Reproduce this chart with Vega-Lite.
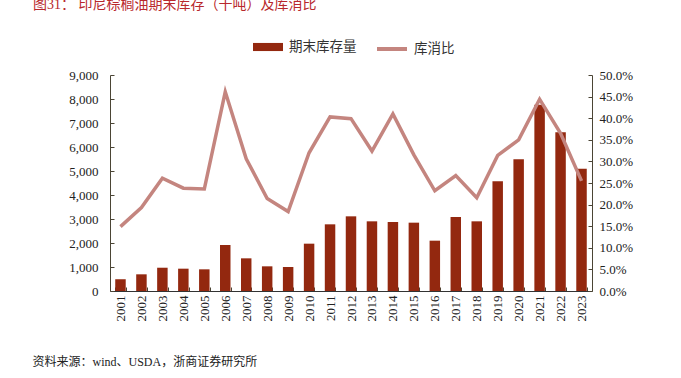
{
  "$schema": "https://vega.github.io/schema/vega-lite/v6.json",
  "width": 482,
  "height": 216,
  "autosize": {"type": "none"},
  "padding": {"left": 110, "top": 75, "right": 89, "bottom": 87},
  "background": "white",
  "title": {
    "text": "图31：  印尼棕榈油期末库存（千吨）及库消比",
    "anchor": "start",
    "frame": "group",
    "dx": -77,
    "offset": 20,
    "fontSize": 14,
    "fontWeight": "normal",
    "font": "Liberation Serif, Noto Sans CJK SC",
    "color": "#B8282C"
  },
  "config": {
    "view": {"stroke": null},
    "axis": {
      "labelFont": "Liberation Serif",
      "labelFontSize": 13,
      "labelColor": "#222222",
      "domainColor": "#4b4535",
      "tickColor": "#4b4535",
      "grid": false
    },
    "legend": {
      "labelFont": "Liberation Serif, Noto Sans CJK SC",
      "labelFontSize": 13.5,
      "labelColor": "#333333",
      "padding": 0
    }
  },
  "data": {
    "values": [
      {"year": "2001", "stock": 490, "ratio": 0.149},
      {"year": "2002", "stock": 695, "ratio": 0.193},
      {"year": "2003", "stock": 970, "ratio": 0.261},
      {"year": "2004", "stock": 930, "ratio": 0.238},
      {"year": "2005", "stock": 903, "ratio": 0.236},
      {"year": "2006", "stock": 1917, "ratio": 0.461},
      {"year": "2007", "stock": 1361, "ratio": 0.306},
      {"year": "2008", "stock": 1028, "ratio": 0.214},
      {"year": "2009", "stock": 1000, "ratio": 0.184},
      {"year": "2010", "stock": 1972, "ratio": 0.320},
      {"year": "2011", "stock": 2778, "ratio": 0.403},
      {"year": "2012", "stock": 3111, "ratio": 0.399},
      {"year": "2013", "stock": 2903, "ratio": 0.324},
      {"year": "2014", "stock": 2875, "ratio": 0.410},
      {"year": "2015", "stock": 2847, "ratio": 0.315},
      {"year": "2016", "stock": 2097, "ratio": 0.232},
      {"year": "2017", "stock": 3083, "ratio": 0.267},
      {"year": "2018", "stock": 2903, "ratio": 0.216},
      {"year": "2019", "stock": 4569, "ratio": 0.314},
      {"year": "2020", "stock": 5486, "ratio": 0.350},
      {"year": "2021", "stock": 7764, "ratio": 0.444},
      {"year": "2022", "stock": 6611, "ratio": 0.365},
      {"year": "2023", "stock": 5097, "ratio": 0.255}
    ]
  },
  "encoding": {
    "x": {
      "field": "year",
      "type": "ordinal",
      "scale": {"paddingInner": 0.5, "paddingOuter": 0.25},
      "axis": {
        "title": "资料来源：wind、USDA，浙商证券研究所",
        "titleFont": "Liberation Serif, Noto Sans CJK SC",
        "titleFontSize": 12,
        "titleFontWeight": "normal",
        "titleColor": "#222222",
        "titleAnchor": "start",
        "titleAlign": "left",
        "titleX": -78,
        "titleY": 70,
        "titleBaseline": "middle",
        "labelAngle": -90,
        "labelPadding": 8,
        "tickSize": -4,
        "tickBand": "extent",
        "domainColor": "#333333"
      }
    }
  },
  "layer": [
    {
      "mark": {"type": "bar", "color": "#93280F"},
      "encoding": {
        "y": {
          "field": "stock",
          "type": "quantitative",
          "scale": {"domain": [0, 9000]},
          "axis": {
            "title": null,
            "values": [0, 1000, 2000, 3000, 4000, 5000, 6000, 7000, 8000, 9000],
            "format": ",d",
            "tickSize": -4,
            "labelPadding": 16
          }
        },
        "fill": {
          "datum": "期末库存量",
          "type": "nominal",
          "scale": {"range": ["#93280F"]},
          "legend": {
            "title": null,
            "orient": "none",
            "legendX": 143,
            "legendY": -43,
            "symbolType": "M-1,-0.27H1V0.27H-1Z",
            "symbolSize": 900,
            "symbolStrokeWidth": 0,
            "labelOffset": 6
          }
        }
      }
    },
    {
      "mark": {"type": "line", "strokeWidth": 3.5, "color": "#C4857F"},
      "encoding": {
        "y": {
          "field": "ratio",
          "type": "quantitative",
          "scale": {"domain": [0, 0.5]},
          "axis": {
            "title": null,
            "orient": "right",
            "values": [0, 0.05, 0.1, 0.15, 0.2, 0.25, 0.3, 0.35, 0.4, 0.45, 0.5],
            "format": ".1%",
            "tickSize": -4,
            "labelPadding": 11
          }
        },
        "stroke": {
          "datum": "库消比",
          "type": "nominal",
          "scale": {"range": ["#C4857F"]},
          "legend": {
            "title": null,
            "orient": "none",
            "legendX": 265,
            "legendY": -43,
            "symbolType": "stroke",
            "symbolSize": 900,
            "symbolStrokeWidth": 4,
            "labelOffset": 5
          }
        }
      }
    }
  ],
  "resolve": {"scale": {"y": "independent", "fill": "independent", "stroke": "independent"}}
}
